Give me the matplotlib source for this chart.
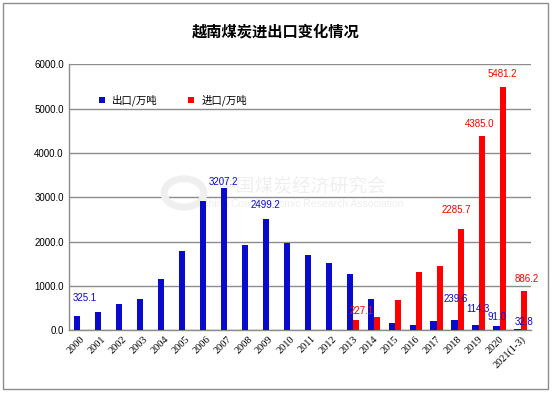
import matplotlib
matplotlib.use('Agg')
import matplotlib.pyplot as plt
from matplotlib.patches import Rectangle, Circle
import numpy as np

plt.rcParams['font.family'] = ['Liberation Sans', 'Noto Sans CJK SC', 'DejaVu Sans']

# Данные
years = ['2000', '2001', '2002', '2003', '2004', '2005', '2006', '2007', '2008', '2009',
         '2010', '2011', '2012', '2013', '2014', '2015', '2016', '2017', '2018', '2019',
         '2020', '2021(1-3)']
export_vals = [325.1, 410, 590, 700, 1160, 1790, 2920, 3207.2, 1920, 2499.2,
               1970, 1700, 1520, 1270, 700, 160, 115, 200, 239.6, 114.3,
               91.0, 32.8]
import_vals = [0, 0, 0, 0, 0, 0, 0, 0, 0, 0,
               0, 0, 0, 227.1, 290, 680, 1310, 1450, 2285.7, 4385.0,
               5481.2, 886.2]
yticks = [0, 1000, 2000, 3000, 4000, 5000, 6000]

# Какие столбцы подписаны (индекс -> смещение подписи в пикселях)
export_labels = {0: (8, 18), 7: (0, 6), 9: (0, 14), 18: (1, 21), 19: (2, 16), 20: (0, 9), 21: (7, 7)}
import_labels = {13: (6, 9), 18: (-4, 19), 19: (-2, 12), 20: (0, 13), 21: (3, 12)}

blue = '#0A0ACC'
red = '#FF0000'

fig = plt.figure(figsize=(5.52, 3.93), dpi=100)
ax = fig.add_axes([0.1255, 0.160, 0.8365, 0.676])

# Рамка вокруг рисунка
fig.patches.append(Rectangle((3 / 552, 4 / 393), 545 / 552, 386 / 393, transform=fig.transFigure,
                             fill=False, edgecolor='#8c8c8c', linewidth=1))

# Водяной знак (под столбцами)
ax.add_patch(Circle((184 / 552, 1 - 193 / 393), 0.036, transform=fig.transFigure,
                    fill=False, edgecolor='#efefef', linewidth=5, zorder=1))
ax.text(302 / 552, 1 - 187 / 393, '中国煤炭经济研究会', ha='center', va='center', fontsize=13.5,
        color='#efefef', family=['Noto Sans CJK SC'], transform=fig.transFigure, zorder=1)
ax.text(302 / 552, 1 - 204 / 393, 'China Coal Economic Research Association', ha='center',
        va='center', fontsize=7.5, color='#efefef', transform=fig.transFigure, zorder=1)

x = np.arange(len(years))
w = 0.29
b1 = ax.bar(x - w / 2, export_vals, w, color=blue, label='出口/万吨', zorder=3)
b2 = ax.bar(x + w / 2, import_vals, w, color=red, label='进口/万吨', zorder=3)

for i, (dx, dy) in export_labels.items():
    ax.annotate(f'{export_vals[i]:.1f}', (x[i] - w / 2, export_vals[i]), xytext=(dx, dy),
                textcoords='offset pixels', ha='center', va='center', fontsize=7, color=blue, zorder=4)
for i, (dx, dy) in import_labels.items():
    ax.annotate(f'{import_vals[i]:.1f}', (x[i] + w / 2, import_vals[i]), xytext=(dx, dy),
                textcoords='offset pixels', ha='center', va='center', fontsize=7, color=red, zorder=4)

ax.set_xlim(-0.5, len(years) - 0.5)
ax.set_ylim(0, 6000)
ax.set_yticks(yticks)
ax.set_yticklabels([f'{v:.1f}' for v in yticks], fontsize=7)
ax.set_xticks(x)
ax.set_xticklabels(years, rotation=45, ha='right', rotation_mode='anchor', fontsize=7.5,
                   family='Liberation Serif')
ax.tick_params(length=0, pad=4)
ax.tick_params(axis='x', pad=3)
ax.yaxis.grid(True, color='#8c8c8c', linewidth=1, zorder=0)
ax.set_axisbelow(True)
for s in ['top', 'right']:
    ax.spines[s].set_visible(False)
for s in ['left', 'bottom']:
    ax.spines[s].set_color('#8c8c8c')
    ax.spines[s].set_linewidth(1)

ax.legend(loc='center left', bbox_to_anchor=(0.065, 0.864), ncol=2, frameon=False,
          prop={'family': 'Noto Sans CJK SC', 'size': 7.5}, handlelength=0.55, handleheight=0.55,
          handletextpad=0.7, columnspacing=2.9, borderpad=0, borderaxespad=0)

fig.text(276 / 552, 1 - 32 / 393, '越南煤炭进出口变化情况', ha='center', va='center', fontsize=11,
         fontweight='bold', family=['Noto Sans CJK SC'])

fig.savefig('out.png', dpi=100)
